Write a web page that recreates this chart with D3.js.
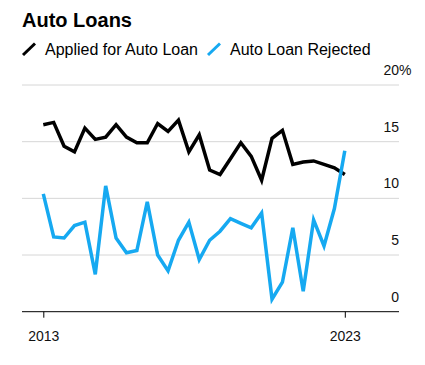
<!DOCTYPE html>
<html>
<head>
<meta charset="utf-8">
<script src="https://cdn.jsdelivr.net/npm/d3@7"></script>
<style>
  body { margin: 0; background: #fff; }
  svg { display: block; font-family: "Liberation Sans", Arial, sans-serif; }
</style>
</head>
<body>
<svg id="chart" width="425" height="365"></svg>
<script>
// survey rounds, roughly every four months, first to last
const periods = d3.range(30);
const xTickIdx = [0, 29];
const xTickLabels = ['2013', '2023'];

const applied = [
  16.5, 16.7, 14.6, 14.1, 16.2, 15.2, 15.4, 16.5, 15.4, 14.9,
  14.9, 16.6, 15.9, 16.9, 14.1, 15.6, 12.5, 12.1, 13.5, 14.9,
  13.7, 11.6, 15.3, 16.0, 13.0, 13.2, 13.3, 13.0, 12.7, 12.1
];
const rejected = [
  10.4, 6.6, 6.5, 7.6, 7.9, 3.3, 11.1, 6.5, 5.2, 5.4,
  9.7, 5.0, 3.6, 6.3, 7.9, 4.6, 6.3, 7.1, 8.2, 7.8,
  7.4, 8.7, 1.1, 2.6, 7.4, 1.8, 8.1, 5.8, 9.1, 14.2
];
const yTicks = [0, 5, 10, 15, 20];

const series = [
  { name: 'Applied for Auto Loan', values: applied, color: '#000000' },
  { name: 'Auto Loan Rejected', values: rejected, color: '#16a9f1' }
];

const svg = d3.select('#chart');
const left = 22, right = 399;

const x = d3.scaleLinear().domain([0, 29]).range([43.3, 344.8]);
const y = d3.scaleLinear().domain([0, 20]).range([311.7, 85]);

// title
svg.append('text')
  .attr('x', 22).attr('y', 27)
  .attr('font-size', 20).attr('font-weight', 'bold')
  .attr('fill', '#000')
  .text('Auto Loans');

// legend
const legendX = [23, 208];
const legend = svg.append('g');
series.forEach((s, i) => {
  const lx = legendX[i];
  legend.append('line')
    .attr('x1', lx).attr('y1', 55)
    .attr('x2', lx + 12).attr('y2', 43.5)
    .attr('stroke', s.color).attr('stroke-width', 3);
  legend.append('text')
    .attr('x', lx + 22).attr('y', 55)
    .attr('font-size', 16).attr('fill', '#000')
    .text(s.name);
});

// gridlines
svg.append('g')
  .selectAll('line')
  .data(yTicks.filter(d => d > 0))
  .join('line')
  .attr('x1', left).attr('x2', right)
  .attr('y1', d => y(d)).attr('y2', d => y(d))
  .attr('stroke', '#d6d6d6').attr('stroke-width', 1);

// y labels, sitting above the gridlines on the right
const yLab = svg.append('g')
  .attr('transform', `translate(${right},0)`)
  .call(d3.axisRight(y).tickValues(yTicks).tickSize(0).tickPadding(0).tickFormat(d3.format('d')));
yLab.select('.domain').remove();
yLab.selectAll('text')
  .attr('x', 0).attr('dy', null)
  .attr('y', -10.5)
  .attr('text-anchor', 'end')
  .attr('font-size', 14)
  .attr('font-family', '"Liberation Sans", Arial, sans-serif')
  .attr('fill', '#111');
yLab.selectAll('.tick')
  .filter(d => d === 20)
  .append('text')
  .attr('x', 0).attr('y', -10.5)
  .attr('font-size', 14)
  .attr('fill', '#111')
  .text('%');

// x axis
const xAxis = svg.append('g')
  .attr('transform', 'translate(0,311.7)')
  .call(d3.axisBottom(x).tickValues(xTickIdx).tickSize(6).tickSizeOuter(0)
    .tickFormat((d, i) => xTickLabels[i]));
xAxis.select('.domain').remove();
xAxis.append('line')
  .attr('x1', left).attr('x2', right)
  .attr('y1', 0).attr('y2', 0)
  .attr('stroke', '#000').attr('stroke-width', 1);
xAxis.selectAll('.tick line').attr('stroke', '#000');
xAxis.selectAll('.tick text')
  .attr('y', 29).attr('dy', null)
  .attr('font-size', 14)
  .attr('font-family', '"Liberation Sans", Arial, sans-serif')
  .attr('fill', '#111');

// lines
const line = d3.line()
  .x((d, i) => x(periods[i]))
  .y(d => y(d));

svg.append('g')
  .selectAll('path')
  .data(series)
  .join('path')
  .attr('d', d => line(d.values))
  .attr('fill', 'none')
  .attr('stroke', d => d.color)
  .attr('stroke-width', 3.5)
  .attr('stroke-linejoin', 'miter');
</script>
</body>
</html>
